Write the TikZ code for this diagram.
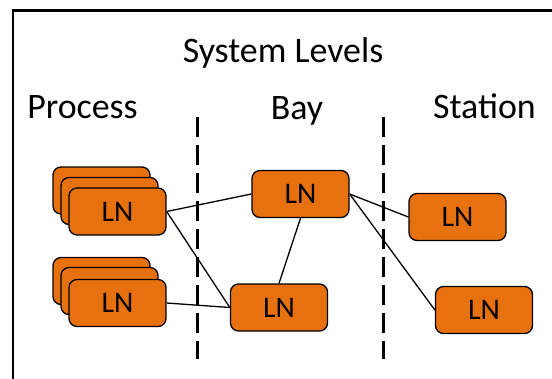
\documentclass[tikz,border=0pt]{standalone}
\usepackage{fontspec}
\setmainfont{Carlito}
\definecolor{lnorange}{HTML}{E8710F}

\tikzset{
  lnbox/.style={draw=black, line width=1.3bp, fill=lnorange, rounded corners=8bp,
    minimum width=97bp, minimum height=47bp, inner sep=0pt,
    font=\fontsize{30}{34}\selectfont},
  levelhead/.style={anchor=base, inner sep=0pt, font=\fontsize{36}{40}\selectfont},
  wire/.style={line width=1.3bp},
  divider/.style={line width=3bp, dash pattern=on 20bp off 8bp}
}

\begin{document}
\begin{tikzpicture}[x=1bp, y=-1bp]
    \clip (0,0) rectangle (552,378);
    \fill[white] (0,0) rectangle (552,378);
    \draw[line width=2.5bp] (13,10.5) rectangle (600,420);

    % headings
    \node[levelhead] (title) at (283,62) {System Levels};
    \node[levelhead] (hproc) at (82.5,118) {Process};
    \node[levelhead] (hbay) at (297,119.5) {Bay};
    \node[levelhead] (hstat) at (484.5,118) {Station};

    % level dividers
    \coordinate (divAtop) at (197,117);
    \coordinate (divAbot) at (197,359);
    \coordinate (divBtop) at (383,117);
    \coordinate (divBbot) at (383,359);
    \draw[divider] (divAtop) -- (divAbot);
    \draw[divider] (divBtop) -- (divBbot);

    % process level, stacked
    \node[lnbox] (procAc) at (101.5,190.5) {};
    \node[lnbox] (procAb) at (109.5,201) {};
    \node[lnbox] (procA) at (117.5,211.5) {LN};
    \node[lnbox] (procBc) at (101.5,281) {};
    \node[lnbox] (procBb) at (109.5,291) {};
    \node[lnbox] (procB) at (117.5,303) {LN};

    % bay level
    \node[lnbox] (bayA) at (300.5,194) {LN};
    \node[lnbox] (bayB) at (279,307.5) {LN};

    % station level
    \node[lnbox] (statA) at (457.5,217) {LN};
    \node[lnbox] (statB) at (484,310) {LN};

    % links
    \draw[wire] (procA.east) -- (bayA.west);
    \draw[wire] (procA.east) -- (bayB.west);
    \draw[wire] (procB.east) -- (bayB.west);
    \draw[wire] (bayA.south) -- (bayB.north);
    \draw[wire] (bayA.east) -- (statA.west);
    \draw[wire] (bayA.east) -- (statB.west);
\end{tikzpicture}
\end{document}
